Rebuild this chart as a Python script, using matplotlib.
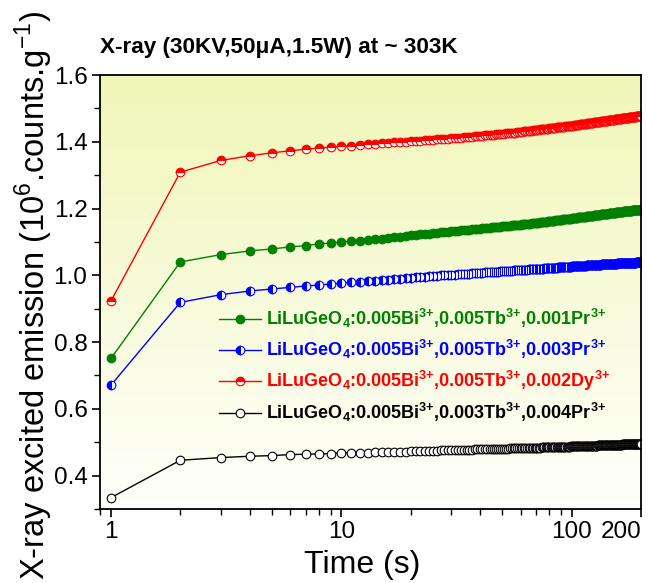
import numpy as np
import matplotlib
matplotlib.use('Agg')
import matplotlib.pyplot as plt
from matplotlib.ticker import FixedLocator, LogLocator, MultipleLocator, NullFormatter

plt.rcParams['font.family'] = ['Liberation Sans', 'DejaVu Sans']
plt.rcParams['mathtext.fontset'] = 'custom'
plt.rcParams['mathtext.rm'] = 'Liberation Sans'
plt.rcParams['mathtext.bf'] = 'Liberation Sans:bold'

# time in seconds, one reading per second
time_s = list(range(1, 201))

green_pr001 = [
    0.751, 1.040, 1.062, 1.073, 1.079, 1.085, 1.089, 1.094, 1.097, 1.100,
    1.102, 1.104, 1.106, 1.108, 1.110, 1.112, 1.114, 1.116, 1.118, 1.120,
    1.121, 1.123, 1.124, 1.125, 1.126, 1.128, 1.129, 1.130, 1.131, 1.132,
    1.133, 1.134, 1.135, 1.136, 1.137, 1.137, 1.138, 1.139, 1.140, 1.140,
    1.141, 1.142, 1.142, 1.143, 1.144, 1.144, 1.145, 1.146, 1.146, 1.147,
    1.147, 1.148, 1.148, 1.149, 1.150, 1.150, 1.151, 1.151, 1.152, 1.152,
    1.153, 1.153, 1.154, 1.154, 1.155, 1.155, 1.156, 1.156, 1.157, 1.157,
    1.158, 1.158, 1.159, 1.159, 1.160, 1.160, 1.161, 1.161, 1.162, 1.162,
    1.163, 1.163, 1.164, 1.164, 1.165, 1.165, 1.165, 1.166, 1.166, 1.167,
    1.167, 1.168, 1.168, 1.168, 1.169, 1.169, 1.170, 1.170, 1.170, 1.171,
    1.171, 1.172, 1.172, 1.172, 1.173, 1.173, 1.174, 1.174, 1.174, 1.175,
    1.175, 1.175, 1.176, 1.176, 1.176, 1.177, 1.177, 1.177, 1.178, 1.178,
    1.178, 1.179, 1.179, 1.179, 1.180, 1.180, 1.180, 1.181, 1.181, 1.181,
    1.182, 1.182, 1.182, 1.183, 1.183, 1.183, 1.183, 1.184, 1.184, 1.184,
    1.185, 1.185, 1.185, 1.185, 1.186, 1.186, 1.186, 1.187, 1.187, 1.187,
    1.187, 1.188, 1.188, 1.188, 1.188, 1.189, 1.189, 1.189, 1.189, 1.190,
    1.190, 1.190, 1.190, 1.191, 1.191, 1.191, 1.191, 1.192, 1.192, 1.192,
    1.192, 1.192, 1.193, 1.193, 1.193, 1.193, 1.193, 1.194, 1.194, 1.194,
    1.194, 1.194, 1.195, 1.195, 1.195, 1.195, 1.195, 1.196, 1.196, 1.196,
    1.196, 1.196, 1.196, 1.197, 1.197, 1.197, 1.197, 1.197, 1.197, 1.198,
]

blue_pr003 = [
    0.671, 0.919, 0.942, 0.953, 0.959, 0.964, 0.968, 0.971, 0.974, 0.977,
    0.979, 0.981, 0.982, 0.984, 0.985, 0.987, 0.988, 0.990, 0.991, 0.993,
    0.994, 0.995, 0.996, 0.997, 0.998, 0.999, 1.000, 1.000, 1.001, 1.002,
    1.002, 1.003, 1.004, 1.004, 1.005, 1.005, 1.006, 1.007, 1.007, 1.008,
    1.008, 1.009, 1.009, 1.010, 1.010, 1.011, 1.011, 1.011, 1.012, 1.012,
    1.013, 1.013, 1.013, 1.014, 1.014, 1.015, 1.015, 1.015, 1.016, 1.016,
    1.016, 1.017, 1.017, 1.017, 1.018, 1.018, 1.018, 1.018, 1.019, 1.019,
    1.019, 1.020, 1.020, 1.020, 1.020, 1.021, 1.021, 1.021, 1.022, 1.022,
    1.022, 1.022, 1.023, 1.023, 1.023, 1.023, 1.024, 1.024, 1.024, 1.024,
    1.025, 1.025, 1.025, 1.025, 1.026, 1.026, 1.026, 1.026, 1.026, 1.027,
    1.027, 1.027, 1.027, 1.027, 1.028, 1.028, 1.028, 1.028, 1.028, 1.029,
    1.029, 1.029, 1.029, 1.029, 1.029, 1.030, 1.030, 1.030, 1.030, 1.030,
    1.030, 1.031, 1.031, 1.031, 1.031, 1.031, 1.031, 1.032, 1.032, 1.032,
    1.032, 1.032, 1.032, 1.032, 1.033, 1.033, 1.033, 1.033, 1.033, 1.033,
    1.033, 1.034, 1.034, 1.034, 1.034, 1.034, 1.034, 1.034, 1.035, 1.035,
    1.035, 1.035, 1.035, 1.035, 1.035, 1.035, 1.035, 1.036, 1.036, 1.036,
    1.036, 1.036, 1.036, 1.036, 1.036, 1.036, 1.036, 1.037, 1.037, 1.037,
    1.037, 1.037, 1.037, 1.037, 1.037, 1.037, 1.037, 1.037, 1.038, 1.038,
    1.038, 1.038, 1.038, 1.038, 1.038, 1.038, 1.038, 1.038, 1.038, 1.038,
    1.039, 1.039, 1.039, 1.039, 1.039, 1.039, 1.039, 1.039, 1.039, 1.039,
]

red_dy002 = [
    0.923, 1.309, 1.344, 1.358, 1.367, 1.373, 1.378, 1.381, 1.384, 1.386,
    1.388, 1.390, 1.392, 1.393, 1.395, 1.396, 1.398, 1.399, 1.400, 1.401,
    1.402, 1.403, 1.404, 1.405, 1.406, 1.407, 1.408, 1.408, 1.409, 1.410,
    1.411, 1.411, 1.412, 1.413, 1.414, 1.415, 1.415, 1.416, 1.417, 1.418,
    1.418, 1.419, 1.420, 1.420, 1.421, 1.421, 1.422, 1.423, 1.423, 1.424,
    1.424, 1.425, 1.425, 1.426, 1.426, 1.427, 1.427, 1.428, 1.429, 1.429,
    1.430, 1.431, 1.431, 1.432, 1.432, 1.433, 1.433, 1.434, 1.434, 1.435,
    1.436, 1.436, 1.437, 1.437, 1.438, 1.438, 1.438, 1.439, 1.439, 1.440,
    1.440, 1.441, 1.441, 1.442, 1.442, 1.443, 1.443, 1.443, 1.444, 1.444,
    1.445, 1.445, 1.445, 1.446, 1.446, 1.447, 1.447, 1.447, 1.448, 1.448,
    1.448, 1.449, 1.449, 1.450, 1.450, 1.451, 1.451, 1.451, 1.452, 1.452,
    1.453, 1.453, 1.453, 1.454, 1.454, 1.454, 1.455, 1.455, 1.456, 1.456,
    1.456, 1.457, 1.457, 1.457, 1.458, 1.458, 1.458, 1.459, 1.459, 1.459,
    1.460, 1.460, 1.460, 1.461, 1.461, 1.461, 1.462, 1.462, 1.462, 1.463,
    1.463, 1.463, 1.463, 1.464, 1.464, 1.464, 1.465, 1.465, 1.465, 1.466,
    1.466, 1.466, 1.466, 1.467, 1.467, 1.467, 1.467, 1.468, 1.468, 1.468,
    1.469, 1.469, 1.469, 1.469, 1.470, 1.470, 1.470, 1.470, 1.471, 1.471,
    1.471, 1.471, 1.472, 1.472, 1.472, 1.472, 1.472, 1.473, 1.473, 1.473,
    1.473, 1.474, 1.474, 1.474, 1.474, 1.475, 1.475, 1.475, 1.475, 1.475,
    1.476, 1.476, 1.476, 1.476, 1.476, 1.477, 1.477, 1.477, 1.477, 1.478,
]

black_pr004 = [
    0.334, 0.446, 0.454, 0.458, 0.460, 0.463, 0.464, 0.465, 0.466, 0.468,
    0.468, 0.469, 0.469, 0.470, 0.470, 0.471, 0.471, 0.472, 0.472, 0.473,
    0.473, 0.474, 0.474, 0.475, 0.475, 0.475, 0.476, 0.476, 0.476, 0.477,
    0.477, 0.477, 0.477, 0.478, 0.478, 0.478, 0.478, 0.479, 0.479, 0.479,
    0.479, 0.479, 0.480, 0.480, 0.480, 0.480, 0.480, 0.481, 0.481, 0.481,
    0.481, 0.481, 0.481, 0.482, 0.482, 0.482, 0.482, 0.482, 0.482, 0.483,
    0.483, 0.483, 0.483, 0.483, 0.483, 0.483, 0.484, 0.484, 0.484, 0.484,
    0.484, 0.484, 0.484, 0.485, 0.485, 0.485, 0.485, 0.485, 0.485, 0.485,
    0.485, 0.486, 0.486, 0.486, 0.486, 0.486, 0.486, 0.486, 0.486, 0.487,
    0.487, 0.487, 0.487, 0.487, 0.487, 0.487, 0.487, 0.487, 0.488, 0.488,
    0.488, 0.488, 0.488, 0.488, 0.488, 0.488, 0.488, 0.488, 0.489, 0.489,
    0.489, 0.489, 0.489, 0.489, 0.489, 0.489, 0.489, 0.489, 0.490, 0.490,
    0.490, 0.490, 0.490, 0.490, 0.490, 0.490, 0.490, 0.490, 0.490, 0.491,
    0.491, 0.491, 0.491, 0.491, 0.491, 0.491, 0.491, 0.491, 0.491, 0.491,
    0.492, 0.492, 0.492, 0.492, 0.492, 0.492, 0.492, 0.492, 0.492, 0.492,
    0.492, 0.492, 0.493, 0.493, 0.493, 0.493, 0.493, 0.493, 0.493, 0.493,
    0.493, 0.493, 0.493, 0.493, 0.493, 0.494, 0.494, 0.494, 0.494, 0.494,
    0.494, 0.494, 0.494, 0.494, 0.494, 0.494, 0.494, 0.494, 0.494, 0.495,
    0.495, 0.495, 0.495, 0.495, 0.495, 0.495, 0.495, 0.495, 0.495, 0.495,
    0.495, 0.495, 0.495, 0.495, 0.495, 0.496, 0.496, 0.496, 0.496, 0.496,
]

sup = r'$^{\mathbf{3}\mathbf{+}}$'
labels = [
    r'LiLuGeO$_\mathbf{4}$:0.005Bi' + sup + ',0.005Tb' + sup + ',0.001Pr' + sup,
    r'LiLuGeO$_\mathbf{4}$:0.005Bi' + sup + ',0.005Tb' + sup + ',0.003Pr' + sup,
    r'LiLuGeO$_\mathbf{4}$:0.005Bi' + sup + ',0.005Tb' + sup + ',0.002Dy' + sup,
    r'LiLuGeO$_\mathbf{4}$:0.005Bi' + sup + ',0.003Tb' + sup + ',0.004Pr' + sup,
]
colors = ['#008000', '#0000ff', '#ff0000', '#000000']

fig = plt.figure(figsize=(6.53, 5.83), dpi=100)
pos = [100 / 653, 1 - 509 / 583, 541 / 653, 434 / 583]

# gradient background behind the data axes
bg = fig.add_axes(pos, zorder=0)
grad = np.linspace(0, 1, 256).reshape(-1, 1)
top = np.array([0.94, 0.965, 0.72])
bot = np.array([1.0, 1.0, 0.985])
img = top[None, None, :] * (1 - grad[:, :, None]) + bot[None, None, :] * grad[:, :, None]
bg.imshow(img, aspect='auto', extent=[0, 1, 0, 1])
bg.axis('off')

ax = fig.add_axes(pos, zorder=1)
ax.patch.set_visible(False)

ms = 6.2
ax.plot(time_s, green_pr001, '-o', color=colors[0], lw=1, ms=ms, mec=colors[0],
        mfc=colors[0], mew=0.8, label=labels[0])
ax.plot(time_s, blue_pr003, '-o', color=colors[1], lw=1, ms=ms, mec=colors[1],
        mfc=colors[1], mfcalt='white', fillstyle='left', mew=0.8, label=labels[1])
ax.plot(time_s, red_dy002, '-o', color=colors[2], lw=1, ms=ms, mec=colors[2],
        mfc=colors[2], mfcalt='white', fillstyle='top', mew=0.8, label=labels[2])
ax.plot(time_s, black_pr004, '-o', color=colors[3], lw=1, ms=ms, mec=colors[3],
        mfc='white', mew=0.8, label=labels[3])

ax.set_xscale('log')
ax.set_xlim(0.896, 200)
ax.set_ylim(0.3, 1.6)
ax.xaxis.set_major_locator(FixedLocator([1, 10, 100, 200]))
ax.set_xticklabels(['1', '10', '100', '200'])
ax.xaxis.set_minor_locator(LogLocator(base=10, subs=np.arange(2, 10)))
ax.xaxis.set_minor_formatter(NullFormatter())
ax.yaxis.set_minor_locator(MultipleLocator(0.1))
ax.set_yticks([0.4, 0.6, 0.8, 1.0, 1.2, 1.4, 1.6])
ax.set_yticklabels(['0.4', '0.6', '0.8', '1.0', '1.2', '1.4', '1.6'])

ax.tick_params(which='major', direction='out', length=6, width=1.2, labelsize=17.5, pad=3)
ax.tick_params(which='minor', direction='out', length=4, width=1.0)
ax.get_xticklabels()[-1].set_horizontalalignment('right')
for s in ax.spines.values():
    s.set_linewidth(1.3)

ax.set_xlabel('Time (s)', fontsize=23, labelpad=0)
ax.xaxis.set_label_coords(0.485, -0.095)
fig.text(34 / 653, 3 / 583, r'X-ray excited emission (10$^6$.counts.g$^{-1}$)',
         rotation=90, ha='center', va='bottom', fontsize=23.5)
fig.text(100 / 653, 1 - 48 / 583, 'X-ray (30KV,50\u03bcA,1.5W) at ~ 303K',
         fontsize=16.2, fontweight='bold', ha='left', va='center')

leg = ax.legend(loc='upper left', bbox_to_anchor=(0.22, 0.465), frameon=False,
                fontsize=13, handlelength=2.3, handletextpad=0.3, labelspacing=0.44,
                borderpad=0, borderaxespad=0)
for txt, c in zip(leg.get_texts(), colors):
    txt.set_color(c)
    txt.set_fontweight('bold')

fig.savefig('out.png', dpi=100)
